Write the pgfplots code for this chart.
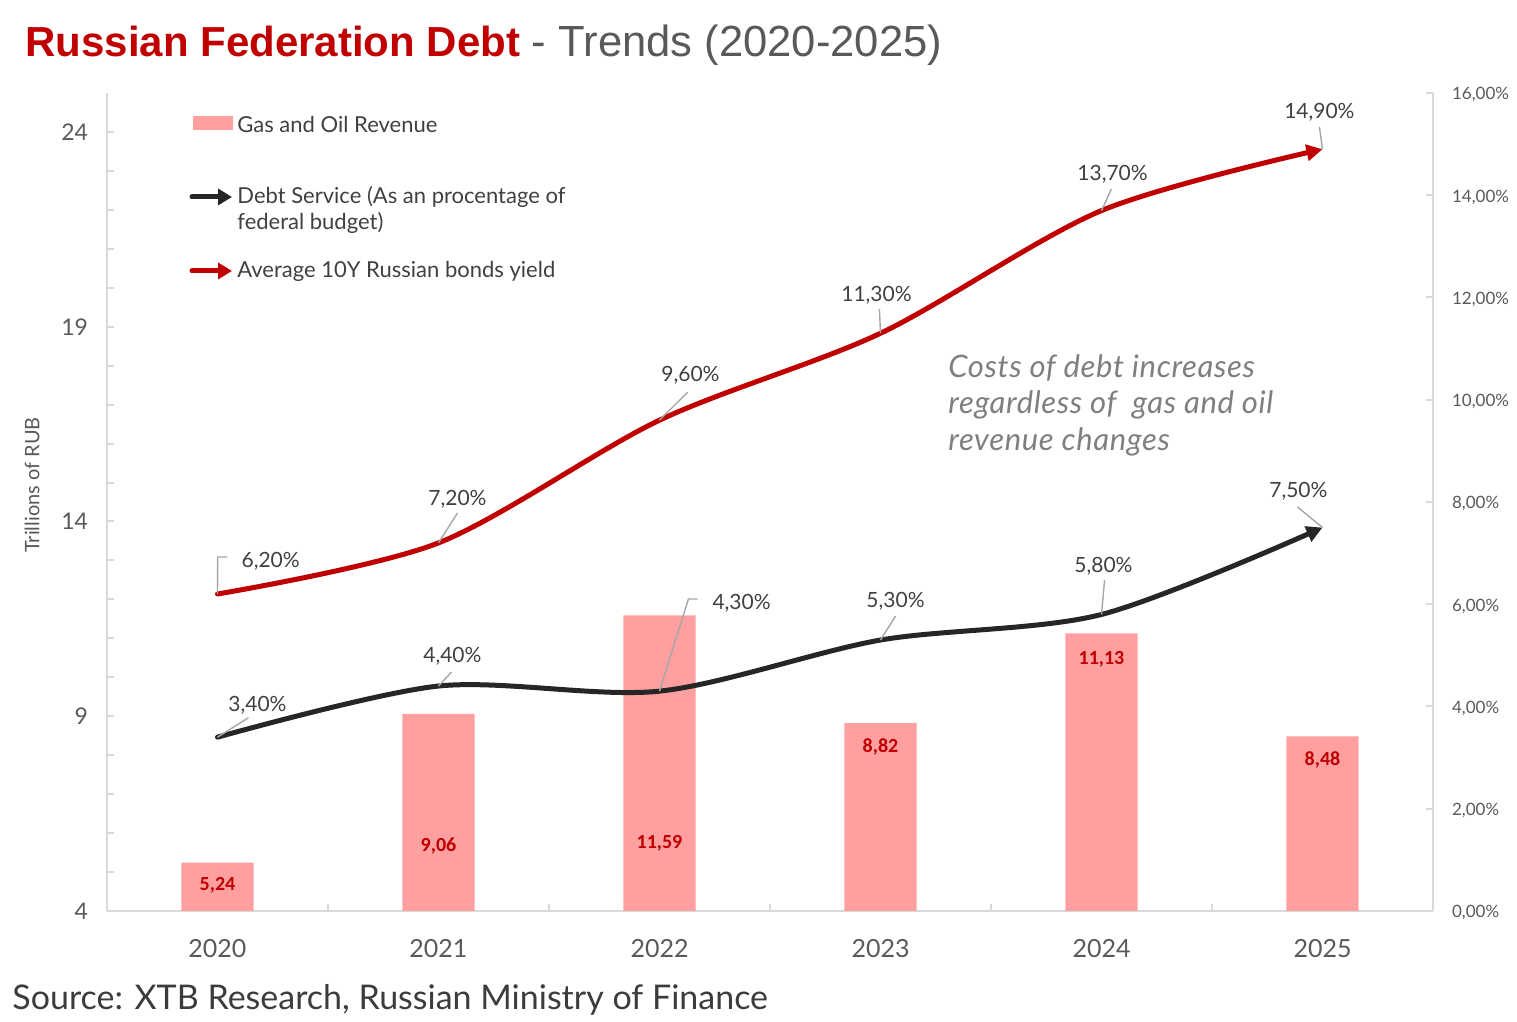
\documentclass[border=0pt]{standalone}
\usepackage{pgfplots}
\pgfplotsset{compat=1.18}
\usetikzlibrary{arrows.meta}
\usepackage{fontspec}
\setmainfont{Lato}
\newfontfamily\titlefont{Liberation Sans}
\newfontfamily\barfont{Carlito}
\definecolor{titlered}{HTML}{C00000}
\definecolor{linered}{HTML}{C00000}
\definecolor{lineblack}{HTML}{262626}
\definecolor{barpink}{HTML}{FF9F9F}
\definecolor{axisgray}{HTML}{D9D9D9}
\definecolor{ticktext}{HTML}{595959}
\definecolor{labeltext}{HTML}{404040}
\definecolor{leader}{HTML}{A6A6A6}
\definecolor{notegray}{HTML}{7F7F7F}
\begin{document}
\begin{tikzpicture}
\useasboundingbox (0,0) rectangle (758.5pt,511pt);
% ---------- left axis with bars ----------
\begin{axis}[
  at={(53.5pt,55.5pt)}, anchor=south west,
  width=663pt, height=409pt, scale only axis,
  xmin=-0.5, xmax=5.5, ymin=4, ymax=25,
  axis x line*=bottom, axis y line*=left,
  axis line style={draw=axisgray, line width=1pt, -},
  xtick={0,...,5}, xticklabels={2020,2021,2022,2023,2024,2025},
  major x tick style={draw=none},
  minor xtick={0.5,1.5,2.5,3.5,4.5},
  ytick={4,9,14,19,24}, minor y tick num=4,
  tick style={draw=axisgray, line width=1pt},
  major tick length=3.5pt, minor tick length=3.5pt,
  tick align=inside,
  /pgf/number format/assume math mode=true,
  ticklabel style={text=ticktext},
  yticklabel style={font=\fontsize{11.5}{13}\selectfont, xshift=-6pt},
  xticklabel style={font=\fontsize{12.5}{14}\selectfont, yshift=-10.5pt},
]
\addplot[ybar, bar width=0.326, fill=barpink, draw=none, bar shift=0pt]
  coordinates {(0,5.24) (1,9.06) (2,11.59) (3,8.82) (4,11.13) (5,8.48)};
\begin{scope}[every node/.style={font=\barfont\bfseries\fontsize{10}{12}\selectfont, text=titlered}]
\node at (axis cs:0,4.667) {5,24};
\node at (axis cs:1,5.669) {9,06};
\node at (axis cs:2,5.746) {11,59};
\node at (axis cs:3,8.211) {8,82};
\node at (axis cs:4,10.47) {11,13};
\node at (axis cs:5,7.877) {8,48};
\end{scope}
\end{axis}
% ---------- right axis with lines ----------
\begin{axis}[
  at={(53.5pt,55.5pt)}, anchor=south west,
  width=663pt, height=409pt, scale only axis,
  xmin=-0.5, xmax=5.5, ymin=0, ymax=16,
  axis x line=none, axis y line*=right,
  axis line style={draw=axisgray, line width=1pt, -},
  ytick={0,2,...,16},
  yticklabels={{0,00\%},{2,00\%},{4,00\%},{6,00\%},{8,00\%},{10,00\%},{12,00\%},{14,00\%},{16,00\%}},
  tick style={draw=axisgray, line width=1pt},
  major tick length=3.5pt, tick align=inside,
  yticklabel style={font=\fontsize{8.5}{10}\selectfont, text=ticktext, xshift=6pt, yshift=-1pt},
  clip=false,
]
\addplot[smooth, line width=2.5pt, color=linered, line cap=round, -{Triangle[length=8pt,width=8pt]}]
  coordinates {(0,6.20) (1,7.20) (2,9.60) (3,11.30) (4,13.70) (5,14.90)};
\addplot[smooth, line width=2.5pt, color=lineblack, line cap=round, -{Triangle[length=8pt,width=8pt]}]
  coordinates {(0,3.40) (1,4.40) (2,4.30) (3,5.30) (4,5.80) (5,7.50)};
% leader lines
\begin{scope}[leader, line width=0.7pt]
\draw (axis cs:0,6.2) -- (axis cs:0.001,6.924) -- (axis cs:0.045,6.924);
\draw (axis cs:1,7.2) -- (axis cs:1.086,7.785);
\draw (axis cs:2,9.6) -- (axis cs:2.127,10.147);
\draw (axis cs:3,11.3) -- (axis cs:2.995,11.775);
\draw (axis cs:4,13.7) -- (axis cs:4.045,14.122);
\draw (axis cs:5,14.9) -- (axis cs:4.986,15.335);
\draw (axis cs:0,3.4) -- (axis cs:0.14,3.78);
\draw (axis cs:1,4.4) -- (axis cs:1.059,4.675);
\draw (axis cs:2,4.3) -- (axis cs:2.131,6.103) -- (axis cs:2.172,6.103);
\draw (axis cs:3,5.3) -- (axis cs:3.068,5.770);
\draw (axis cs:4,5.8) -- (axis cs:4.014,6.474);
\draw (axis cs:5,7.5) -- (axis cs:4.887,7.902);
\end{scope}
\begin{scope}[every node/.style={font=\fontsize{10.5}{12}\selectfont, text=labeltext}]
\node[anchor=west] at (axis cs:0.077,6.846) {6,20\%};
\node at (axis cs:1.086,8.059) {7,20\%};
\node at (axis cs:2.140,10.484) {9,60\%};
\node at (axis cs:2.982,12.049) {11,30\%};
\node at (axis cs:4.050,14.416) {13,70\%};
\node at (axis cs:4.986,15.628) {14,90\%};
\node at (axis cs:0.181,4.03) {3,40\%};
\node at (axis cs:1.063,4.988) {4,40\%};
\node[anchor=west] at (axis cs:2.208,6.024) {4,30\%};
\node at (axis cs:3.068,6.064) {5,30\%};
\node at (axis cs:4.009,6.748) {5,80\%};
\node at (axis cs:4.891,8.215) {7,50\%};
\end{scope}
\end{axis}
% ---------- legend ----------
\fill[barpink] (96.5pt,446pt) rectangle (116.5pt,453pt);
\begin{scope}[every node/.style={anchor=west, inner sep=0pt, font=\fontsize{11}{13}\selectfont, text=labeltext}]
\node at (118.5pt,449pt) {Gas and Oil Revenue};
\node at (118.5pt,412.5pt) {Debt Service (As an procentage of};
\node at (118.5pt,399.5pt) {federal budget)};
\node at (118.5pt,375.5pt) {Average 10Y Russian bonds yield};
\end{scope}
\draw[lineblack, line width=2.5pt, line cap=round, -{Triangle[length=7pt,width=8pt]}] (96pt,412.5pt) -- (116pt,412.5pt);
\draw[linered, line width=2.5pt, line cap=round, -{Triangle[length=7pt,width=8pt]}] (96pt,375.5pt) -- (116pt,375.5pt);
% ---------- annotation ----------
\begin{scope}[every node/.style={anchor=west, inner sep=0pt, font=\itshape\fontsize{15.5}{18}\selectfont\addfontfeatures{LetterSpace=2}, text=notegray}]
\node at (474pt,327pt) {Costs of debt increases};
\node at (474pt,308.5pt) {regardless of\ \ gas and oil};
\node at (474pt,290pt) {revenue changes};
\end{scope}
% ---------- y label ----------
\node[rotate=90, font=\fontsize{10}{12}\selectfont, text=ticktext] at (16pt,268.5pt) {Trillions of RUB};
% ---------- title ----------
\node[anchor=base west, inner sep=0pt, font=\titlefont\fontsize{21}{25}\selectfont] at (12.5pt,482.5pt)
  {\textcolor{titlered}{\bfseries Russian Federation Debt} \textcolor{ticktext}{\fontsize{21.8}{25}\selectfont - Trends (2020-2025)}};
% ---------- source ----------
\node[anchor=base west, inner sep=0pt, font=\fontsize{17}{20}\selectfont, text=lineblack!90] at (6pt,6pt)
  {Source: XTB Research, Russian Ministry of Finance};
\end{tikzpicture}
\end{document}
